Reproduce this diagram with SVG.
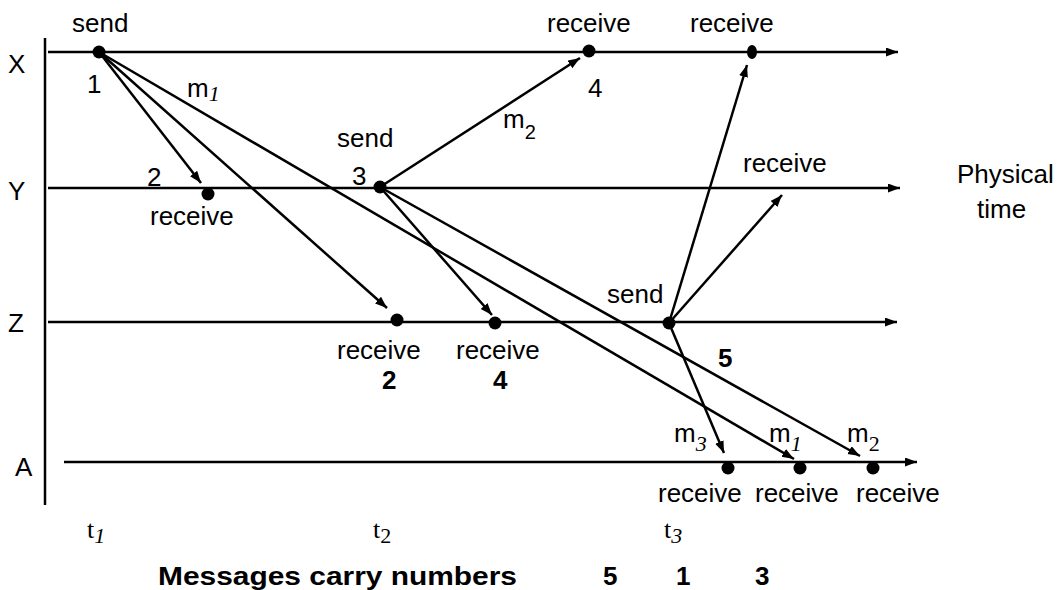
<svg xmlns="http://www.w3.org/2000/svg" width="1061" height="590" viewBox="0 0 1061 590">
<style>
.t{font-family:"Liberation Sans",Arial,sans-serif;font-size:26px;fill:#000}
.b{font-family:"Liberation Sans",Arial,sans-serif;font-size:26px;font-weight:bold;fill:#000}
.s{font-family:"Liberation Serif","Times New Roman",serif;fill:#000}
.i{font-style:italic}
.ln{stroke:#000;stroke-width:2.5;fill:none}
.dot{fill:#000}
</style>
<defs>
<marker id="ah" markerUnits="userSpaceOnUse" markerWidth="14" markerHeight="10" refX="12" refY="4.5" orient="auto">
<path d="M0,0 L12,4.5 L0,9 z" fill="#000"/>
</marker>
</defs>
<rect width="1061" height="590" fill="#fff"/>
<g id="axis">
<line class="ln" x1="45" y1="38" x2="45" y2="505"/>
</g>
<g id="process-X">
<text class="t" x="8" y="73">X</text>
<line class="ln" x1="48" y1="52" x2="898" y2="52" marker-end="url(#ah)"/>
</g>
<g id="process-Y">
<text class="t" x="8" y="200">Y</text>
<line class="ln" x1="48" y1="188" x2="900" y2="188" marker-end="url(#ah)"/>
</g>
<g id="process-Z">
<text class="t" x="8" y="332">Z</text>
<line class="ln" x1="48" y1="322" x2="897" y2="322" marker-end="url(#ah)"/>
</g>
<g id="process-A">
<text class="t" x="15" y="476">A</text>
<line class="ln" x1="64" y1="462" x2="917" y2="462" marker-end="url(#ah)"/>
</g>
<g id="physical-time">
<text class="t" x="957" y="183">Physical</text>
<text class="t" x="977" y="218">time</text>
</g>
<g id="connectors">
<line class="ln" x1="99" y1="52" x2="201" y2="183" marker-end="url(#ah)"/>
<line class="ln" x1="99" y1="52" x2="387" y2="308" marker-end="url(#ah)"/>
<line class="ln" x1="99" y1="52" x2="794" y2="459" marker-end="url(#ah)"/>
<line class="ln" x1="380" y1="187" x2="580" y2="58" marker-end="url(#ah)"/>
<line class="ln" x1="380" y1="187" x2="492" y2="315" marker-end="url(#ah)"/>
<line class="ln" x1="380" y1="187" x2="860" y2="456" marker-end="url(#ah)"/>
<line class="ln" x1="669" y1="323" x2="747" y2="65" marker-end="url(#ah)"/>
<line class="ln" x1="669" y1="323" x2="782" y2="195" marker-end="url(#ah)"/>
<line class="ln" x1="669" y1="323" x2="724" y2="453" marker-end="url(#ah)"/>
</g>
<g id="event-X-send">
<circle class="dot" cx="99" cy="52" r="6.5"/>
<text class="t" x="72" y="32">send</text>
<text class="t" x="87" y="93">1</text>
<text class="t" x="187" y="97">m<tspan class="s i" font-size="22" dy="4">1</tspan></text>
</g>
<g id="event-X-receive-4">
<circle class="dot" cx="589" cy="51" r="6.5"/>
<text class="t" x="547" y="32">receive</text>
<text class="t" x="588" y="97">4</text>
</g>
<g id="event-X-receive">
<ellipse class="dot" cx="752" cy="52" rx="5" ry="7"/>
<text class="t" x="690" y="32">receive</text>
</g>
<g id="event-Y-receive-2">
<circle class="dot" cx="208" cy="194" r="6.5"/>
<text class="t" x="147" y="186">2</text>
<text class="t" x="150" y="225">receive</text>
</g>
<g id="event-Y-send-3">
<circle class="dot" cx="380" cy="187" r="6.5"/>
<text class="t" x="337" y="147">send</text>
<text class="t" x="352" y="185">3</text>
<text class="t" x="503" y="128">m<tspan font-size="20" dy="11">2</tspan></text>
</g>
<g id="event-Y-receive">
<text class="t" x="743" y="172">receive</text>
</g>
<g id="event-Z-receive-2">
<circle class="dot" cx="397" cy="320" r="6.5"/>
<text class="t" x="337" y="359">receive</text>
<text class="b" x="382" y="389">2</text>
</g>
<g id="event-Z-receive-4">
<circle class="dot" cx="495" cy="323" r="6.5"/>
<text class="t" x="456" y="359">receive</text>
<text class="b" x="493" y="389">4</text>
</g>
<g id="event-Z-send">
<circle class="dot" cx="669" cy="323" r="6.5"/>
<text class="t" x="607" y="303">send</text>
<text class="b" x="718" y="367">5</text>
</g>
<g id="event-A-receive-m3">
<circle class="dot" cx="728" cy="468" r="6.5"/>
<text class="t" x="674" y="442">m<tspan class="s i" font-size="22" dy="9">3</tspan></text>
<text class="t" x="658" y="502">receive</text>
</g>
<g id="event-A-receive-m1">
<circle class="dot" cx="800" cy="468" r="6.5"/>
<text class="t" x="769" y="442">m<tspan class="s i" font-size="22" dy="9">1</tspan></text>
<text class="t" x="755" y="502">receive</text>
</g>
<g id="event-A-receive-m2">
<circle class="dot" cx="873" cy="468" r="6.5"/>
<text class="t" x="847" y="442">m<tspan class="s" font-size="22" dy="9">2</tspan></text>
<text class="t" x="856" y="502">receive</text>
</g>
<g id="times">
<text class="s" font-size="26" x="87" y="538">t<tspan class="i" font-size="22" dy="5">1</tspan></text>
<text class="s" font-size="26" x="373" y="538">t<tspan font-size="22" dy="5">2</tspan></text>
<text class="s" font-size="26" x="664" y="538">t<tspan class="i" font-size="22" dy="5">3</tspan></text>
</g>
<g id="footer">
<text class="b" font-size="29" x="158" y="585" textLength="359" lengthAdjust="spacingAndGlyphs">Messages carry numbers</text>
<text class="b" font-size="28" x="603" y="585">5</text>
<text class="b" font-size="28" x="676" y="585">1</text>
<text class="b" font-size="28" x="755" y="585">3</text>
</g>
</svg>
